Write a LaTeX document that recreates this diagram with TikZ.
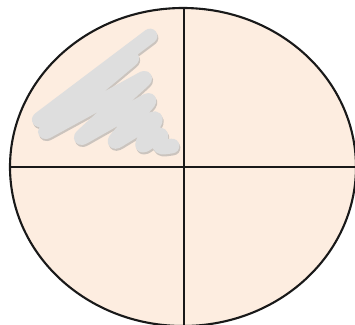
\documentclass[tikz,border=0pt]{standalone}
\definecolor{peach}{HTML}{FDEDE0}
\definecolor{scribble}{HTML}{DEDEDE}
\definecolor{scribshadow}{HTML}{CBC4BE}
\tikzset{
  outline/.style={line width=0.6pt, black!90},
  scrib/.style={line width=4.2pt, scribble, line cap=round, line join=round, rounded corners=2pt},
  scribsh/.style={line width=4.2pt, scribshadow, line cap=round, line join=round, rounded corners=2pt}
}
\begin{document}
\begin{tikzpicture}[x=0.01cm,y=-0.01cm]
\useasboundingbox (0,0) rectangle (355,324);
\coordinate (c) at (183,167);
\fill[peach] (c) ellipse [x radius=173, y radius=159];
\def\scribpath{(150,36) -- (36,122) -- (135,56) -- (42,134) -- (148,76) -- (78,140) -- (152,98) -- (112,144) -- (158,116) -- (140,148) -- (163,132) -- (157,148) -- (172,146)}
\draw[scribsh] [shift={(1,2)}] \scribpath;
\draw[scrib] \scribpath;
\coordinate (t) at (184,8);
\coordinate (b) at (184,326);
\coordinate (l) at (10,167);
\coordinate (r) at (356,167);
\draw[outline] (t) -- (b);
\draw[outline] (l) -- (r);
\draw[outline] (c) ellipse [x radius=173, y radius=159];
\end{tikzpicture}
\end{document}
